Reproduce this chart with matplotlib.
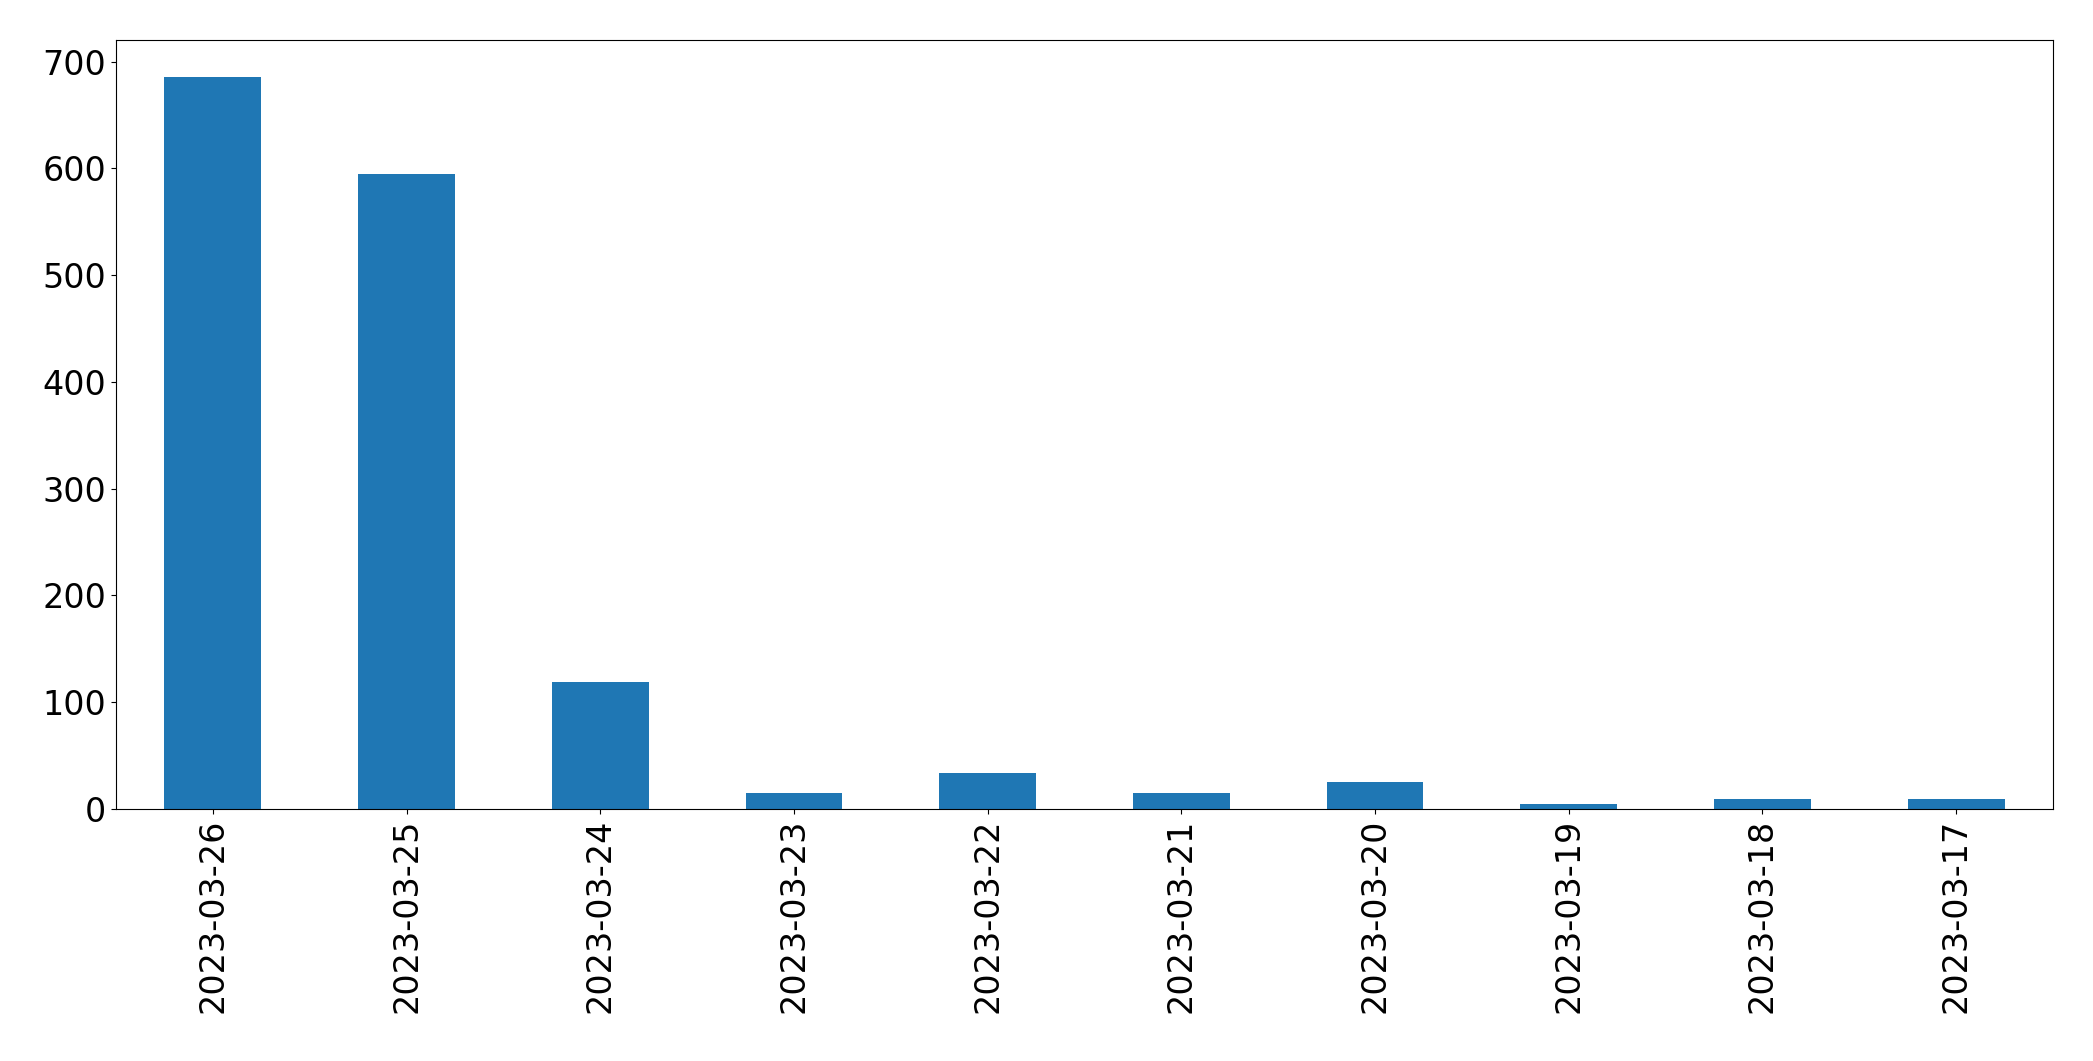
import matplotlib
matplotlib.use("Agg")
import matplotlib.pyplot as plt
import pandas as pd

dates = ["2023-03-26","2023-03-25","2023-03-24","2023-03-23","2023-03-22",
         "2023-03-21","2023-03-20","2023-03-19","2023-03-18","2023-03-17"]
counts = [686, 595, 119, 15, 34, 15, 25, 5, 9, 9]

fig = plt.figure(figsize=(20.93, 10.61), dpi=100)
ax = fig.add_axes([116/2093, 1-809/1061, (2053-116)/2093, (809-40)/1061])
pd.Series(counts, index=dates).plot.bar(ax=ax, color="#1f77b4")
ax.tick_params(labelsize=24)
fig.savefig("out.png", dpi=100)
